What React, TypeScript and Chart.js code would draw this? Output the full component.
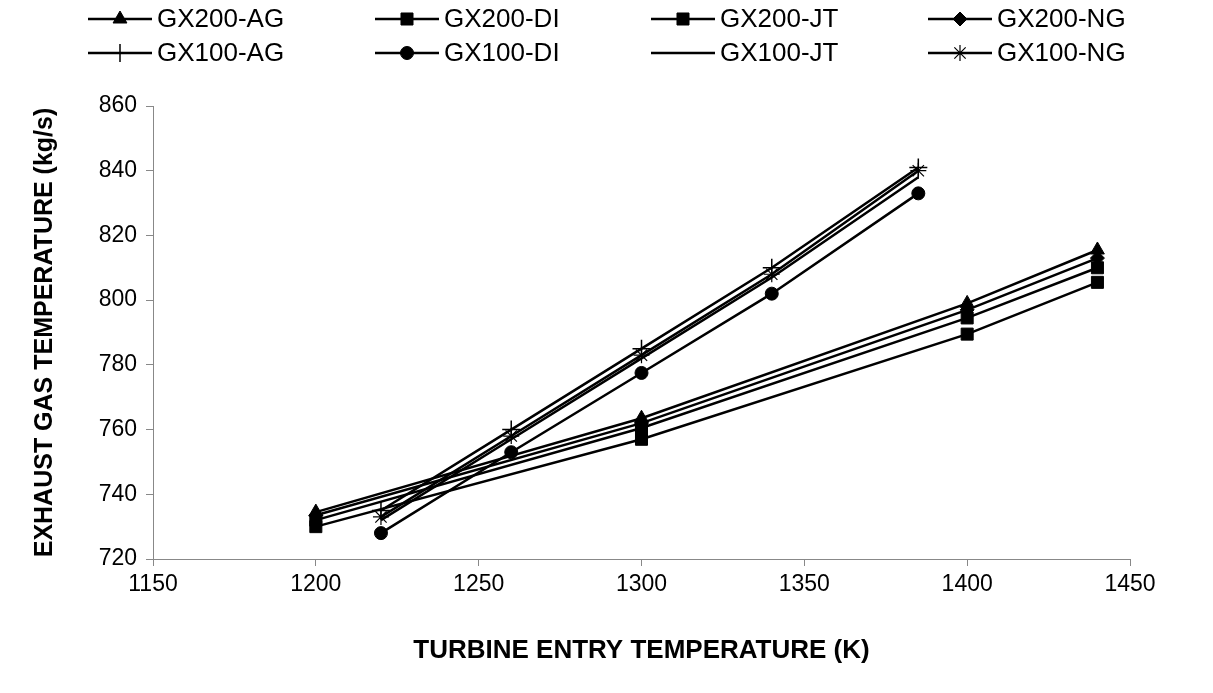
import React, { useEffect, useRef } from 'react';
import { Chart, registerables } from 'chart.js';
import { drawPoint } from 'chart.js/helpers';

Chart.register(...registerables);

// ---- Data ----
const gx200Temps = [1200, 1300, 1400, 1440];
const gx100Temps = [1220, 1260, 1300, 1340, 1385];

const gx200AG = [734.5, 763.5, 799, 815.5];
const gx200DI = [732, 760.5, 794.5, 810];
const gx200JT = [730, 757, 789.5, 805.5];
const gx200NG = [733.5, 762, 797, 813];

const gx100AG = [735, 760, 785, 810, 841];
const gx100DI = [728, 753, 777.5, 802, 833];
const gx100JT = [732, 757, 782, 807, 838];
const gx100NG = [733, 758, 783, 808, 840];

const seriesNames = [
  'GX200-AG', 'GX200-DI', 'GX200-JT', 'GX200-NG',
  'GX100-AG', 'GX100-DI', 'GX100-JT', 'GX100-NG',
];

const xMin = 1150;
const xMax = 1450;
const xStep = 50;
const yMin = 720;
const yMax = 860;
const yStep = 20;

const xTitle = 'TURBINE ENTRY TEMPERATURE (K)';
const yTitle = 'EXHAUST GAS TEMPERATURE (kg/s)';

// ---- Styles ----
const markerStyles: { pointStyle: any; radius: number; borderWidth: number; fill: boolean }[] = [
  { pointStyle: 'triangle', radius: 8, borderWidth: 1, fill: true },
  { pointStyle: 'rect', radius: 8.5, borderWidth: 1, fill: true },
  { pointStyle: 'rect', radius: 8.5, borderWidth: 1, fill: true },
  { pointStyle: 'rectRot', radius: 7, borderWidth: 1, fill: true },
  { pointStyle: 'cross', radius: 9, borderWidth: 1.5, fill: false },
  { pointStyle: 'circle', radius: 6.5, borderWidth: 1, fill: true },
  { pointStyle: false, radius: 0, borderWidth: 0, fill: true },
  { pointStyle: 'star', radius: 8, borderWidth: 1.2, fill: false },
];

const FONT = "'Liberation Sans', Arial, sans-serif";

function toPoints(xs: number[], ys: number[]) {
  return xs.map((x, i) => ({ x, y: ys[i] }));
}

const legendPlugin = {
  id: 'customLegend',
  afterDraw(chart: any) {
    const ctx = chart.ctx as CanvasRenderingContext2D;
    const cols = [88, 375, 651, 928];
    const rows = [19, 53];
    const lineLen = 64;
    ctx.save();
    ctx.font = `26px ${FONT}`;
    ctx.textBaseline = 'middle';
    ctx.textAlign = 'left';
    seriesNames.forEach((name, i) => {
      const x0 = cols[i % 4];
      const y = rows[Math.floor(i / 4)];
      const m = markerStyles[i];
      ctx.strokeStyle = '#000';
      ctx.lineWidth = 2.5;
      ctx.beginPath();
      ctx.moveTo(x0, y);
      ctx.lineTo(x0 + lineLen, y);
      ctx.stroke();
      if (m.pointStyle) {
        ctx.fillStyle = '#000';
        ctx.strokeStyle = '#000';
        ctx.lineWidth = m.borderWidth;
        drawPoint(ctx, { pointStyle: m.pointStyle, radius: m.radius, rotation: 0, borderWidth: m.borderWidth } as any, x0 + lineLen / 2, y);
      }
      ctx.fillStyle = '#000';
      ctx.fillText(name, x0 + lineLen + 5, y + 1);
    });
    ctx.restore();
  },
};

export default function App() {
  const canvasRef = useRef<HTMLCanvasElement | null>(null);

  useEffect(() => {
    const canvas = canvasRef.current;
    if (!canvas) return;
    const seriesData = [
      toPoints(gx200Temps, gx200AG),
      toPoints(gx200Temps, gx200DI),
      toPoints(gx200Temps, gx200JT),
      toPoints(gx200Temps, gx200NG),
      toPoints(gx100Temps, gx100AG),
      toPoints(gx100Temps, gx100DI),
      toPoints(gx100Temps, gx100JT),
      toPoints(gx100Temps, gx100NG),
    ];
    const datasets = seriesNames.map((name, i) => {
      const m = markerStyles[i];
      return {
        label: name,
        data: seriesData[i],
        borderColor: '#000',
        backgroundColor: m.fill ? '#000' : 'rgba(0,0,0,0)',
        borderWidth: 2.5,
        pointStyle: m.pointStyle,
        pointRadius: m.radius,
        pointBorderWidth: m.borderWidth,
        pointBackgroundColor: m.fill ? '#000' : 'rgba(0,0,0,0)',
        pointBorderColor: '#000',
        showLine: true,
        tension: 0,
        clip: false as any,
      };
    });

    const chart = new Chart(canvas, {
      type: 'scatter',
      data: { datasets: datasets as any },
      options: {
        animation: false,
        responsive: true,
        maintainAspectRatio: false,
        layout: { padding: { top: 106, right: 83, left: 0, bottom: 0 } },
        plugins: {
          legend: { display: false },
          tooltip: { enabled: false },
        },
        scales: {
          x: {
            type: 'linear',
            min: xMin,
            max: xMax,
            afterFit: (s: any) => { s.height = 134; },
            ticks: {
              stepSize: xStep,
              color: '#000',
              font: { family: FONT, size: 23 },
              padding: 5,
              maxRotation: 0,
              callback: (v: any) => String(v),
            },
            grid: { display: true, drawOnChartArea: false, drawTicks: true, tickLength: 7, color: '#888' },
            border: { display: true, color: '#888', width: 1 },
            title: {
              display: true,
              text: xTitle,
              color: '#000',
              font: { family: FONT, size: 26, weight: 'bold' },
              padding: { top: 0, bottom: 27 },
            },
          },
          y: {
            type: 'linear',
            min: yMin,
            max: yMax,
            afterFit: (s: any) => { s.width = 153; },
            ticks: {
              stepSize: yStep,
              color: '#000',
              font: { family: FONT, size: 23 },
              padding: 9,
              callback: (v: any) => String(v),
            },
            grid: { display: true, drawOnChartArea: false, drawTicks: true, tickLength: 7, color: '#888' },
            border: { display: true, color: '#888', width: 1 },
            title: {
              display: true,
              text: yTitle,
              color: '#000',
              font: { family: FONT, size: 25, weight: 'bold' },
              padding: { top: 30, bottom: 0 },
            },
          },
        },
      },
      plugins: [legendPlugin],
    });
    return () => chart.destroy();
  }, []);

  return (
    <div style={{ position: 'absolute', left: 0, top: 0, width: 1213, height: 693, background: '#fff' }}>
      <canvas ref={canvasRef} />
    </div>
  );
}
